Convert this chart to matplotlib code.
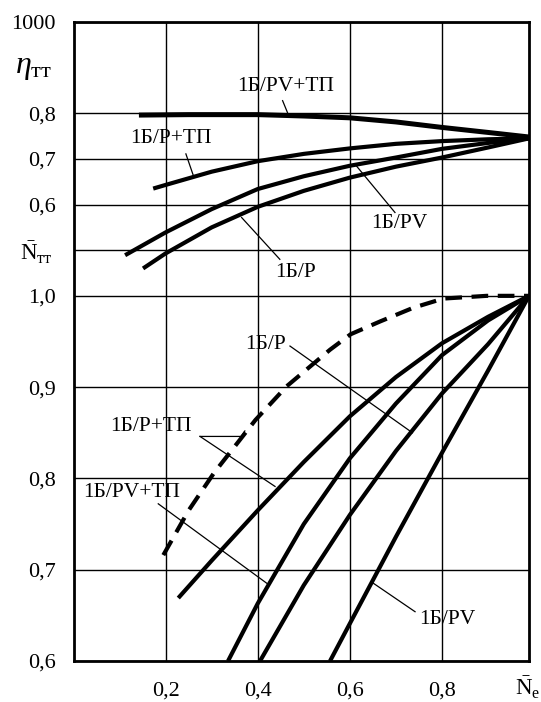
import matplotlib
matplotlib.use("Agg")
import matplotlib.pyplot as plt
import numpy as np

plt.rcParams['font.family'] = ['Liberation Serif', 'DejaVu Serif']
plt.rcParams['mathtext.fontset'] = 'custom'
plt.rcParams['mathtext.rm'] = 'Liberation Serif'
plt.rcParams['mathtext.it'] = 'Liberation Serif:italic'

# upper block: efficiency eta_tt vs N_e
eta_pv_tp_x = [0.142, 0.25, 0.4, 0.5, 0.6, 0.7, 0.8, 0.9, 0.989]
eta_pv_tp = [0.796, 0.797, 0.797, 0.794, 0.790, 0.781, 0.769, 0.758, 0.748]
eta_p_tp_x = [0.173, 0.2, 0.3, 0.4, 0.5, 0.6, 0.7, 0.8, 0.9, 0.989]
eta_p_tp = [0.635, 0.643, 0.672, 0.695, 0.711, 0.723, 0.733, 0.739, 0.743, 0.745]
eta_pv_x = [0.112, 0.2, 0.3, 0.4, 0.5, 0.6, 0.7, 0.8, 0.9, 0.989]
eta_pv = [0.489, 0.539, 0.590, 0.634, 0.662, 0.685, 0.703, 0.722, 0.735, 0.745]
eta_p_x = [0.151, 0.2, 0.3, 0.4, 0.5, 0.6, 0.7, 0.8, 0.9, 0.989]
eta_p = [0.460, 0.493, 0.550, 0.595, 0.630, 0.659, 0.683, 0.703, 0.725, 0.745]

# lower block: relative power N_tt vs N_e
ntt_dash_x = [0.195, 0.25, 0.305, 0.395, 0.463, 0.557, 0.602, 0.666, 0.738, 0.803, 0.897, 0.989]
ntt_dash = [0.716, 0.765, 0.806, 0.864, 0.901, 0.941, 0.958, 0.972, 0.987, 0.997, 1.0, 1.0]
ntt_p_tp_x = [0.2275, 0.3, 0.4, 0.5, 0.6, 0.7, 0.8, 0.9, 0.989]
ntt_p_tp = [0.669, 0.710, 0.765, 0.818, 0.868, 0.911, 0.948, 0.977, 1.0]
ntt_pv_tp_x = [0.3355, 0.4, 0.5, 0.6, 0.7, 0.8, 0.9, 0.989]
ntt_pv_tp = [0.6, 0.663, 0.750, 0.822, 0.882, 0.935, 0.973, 1.0]
ntt_p_x = [0.405, 0.5, 0.6, 0.7, 0.8, 0.9, 0.989]
ntt_p = [0.6, 0.683, 0.760, 0.830, 0.893, 0.947, 1.0]
ntt_pv_x = [0.557, 0.6, 0.7, 0.8, 0.9, 0.989]
ntt_pv = [0.6, 0.641, 0.736, 0.828, 0.918, 1.0]

x_ticks = [0.2, 0.4, 0.6, 0.8]
x_labels = ['0,2', '0,4', '0,6', '0,8']
y_ticks = [0.6, 0.7, 0.8, 0.9, 1.0, 1.05, 1.1, 1.15, 1.2, 1.3]
y_labels = ['0,6', '0,7', '0,8', '0,9', '1,0', '', '0,6', '0,7', '0,8', '1000']


def eta_to_y(eta):
    # the eta scale sits above the N_tt scale: eta 0.4 -> 1.0, 0.1 of eta = 0.05
    return 1.0 + (np.array(eta) - 0.4) * 0.5


fig = plt.figure(figsize=(5.41, 7.02), dpi=100)
ax = fig.add_axes([0.1359, 0.0584, 0.9778 - 0.1359, 0.9687 - 0.0584])

lw = 3.0
ax.plot(eta_pv_tp_x, eta_to_y(eta_pv_tp), color='black', lw=lw + 0.6, solid_capstyle='butt')
ax.plot(eta_p_tp_x, eta_to_y(eta_p_tp), color='black', lw=lw, solid_capstyle='butt')
ax.plot(eta_pv_x, eta_to_y(eta_pv), color='black', lw=lw, solid_capstyle='butt')
ax.plot(eta_p_x, eta_to_y(eta_p), color='black', lw=lw, solid_capstyle='butt')

ax.plot(ntt_dash_x, ntt_dash, color='black', lw=lw, dashes=(4, 2.3))
ax.plot(ntt_p_tp_x, ntt_p_tp, color='black', lw=lw, solid_capstyle='butt')
ax.plot(ntt_pv_tp_x, ntt_pv_tp, color='black', lw=lw, solid_capstyle='butt')
ax.plot(ntt_p_x, ntt_p, color='black', lw=lw, solid_capstyle='butt')
ax.plot(ntt_pv_x, ntt_pv, color='black', lw=lw, solid_capstyle='butt')

ax.set_xlim(0, 0.989)
ax.set_ylim(0.6, 1.3)
ax.set_xticks(x_ticks)
ax.set_xticklabels(x_labels)
ax.set_yticks(y_ticks)
ax.set_yticklabels(y_labels)
ax.tick_params(length=0, labelsize=16)
ax.tick_params(axis='x', pad=15)
ax.tick_params(axis='y', pad=13)
ax.grid(True, color='black', lw=1.0)
for s in ax.spines.values():
    s.set_linewidth(2.0)

fs = 15.5
# curve labels and leader lines
ax.text(0.461, 1.229, '1Б/PV+ТП', fontsize=fs, ha='center', va='center')
ax.plot([0.454, 0.466], [1.2138, 1.199], color='black', lw=0.9)
ax.text(0.212, 1.172, '1Б/P+ТП', fontsize=fs, ha='center', va='center')
ax.plot([0.244, 0.260], [1.1555, 1.132], color='black', lw=0.9)
ax.text(0.707, 1.0796, '1Б/PV', fontsize=fs, ha='center', va='center')
ax.plot([0.698, 0.611], [1.0913, 1.1443], color='black', lw=0.9)
ax.text(0.483, 1.0258, '1Б/P', fontsize=fs, ha='center', va='center')
ax.plot([0.448, 0.365], [1.040, 1.0858], color='black', lw=0.9)

ax.text(0.416, 0.947, '1Б/P', fontsize=fs, ha='center', va='center')
ax.plot([0.470, 0.736], [0.945, 0.850], color='black', lw=0.9)
ax.text(0.169, 0.857, '1Б/P+ТП', fontsize=fs, ha='center', va='center')
ax.plot([0.2747, 0.364, 0.372], [0.846, 0.846, 0.852], color='black', lw=0.9)
ax.plot([0.2747, 0.4376], [0.846, 0.7912], color='black', lw=0.9)
ax.text(0.126, 0.7843, '1Б/PV+ТП', fontsize=fs, ha='center', va='center')
ax.plot([0.184, 0.4195], [0.7722, 0.6852], color='black', lw=0.9)
ax.text(0.811, 0.645, '1Б/PV', fontsize=fs, ha='center', va='center')
ax.plot([0.7416, 0.651], [0.654, 0.6852], color='black', lw=0.9)

# axis names
ax.text(-0.086, 1.25, r'$\eta_{\mathrm{тт}}$', fontsize=23, ha='center', va='center', clip_on=False)
ax.text(-0.08, 1.047, r'$\bar{\mathrm{N}}_{\mathrm{тт}}$', fontsize=16.5, ha='center', va='center', clip_on=False)
ax.text(0.987, 0.570, r'$\bar{\mathrm{N}}_{\mathrm{e}}$', fontsize=16.5, ha='center', va='center', clip_on=False)

fig.savefig('out.png', dpi=100)
